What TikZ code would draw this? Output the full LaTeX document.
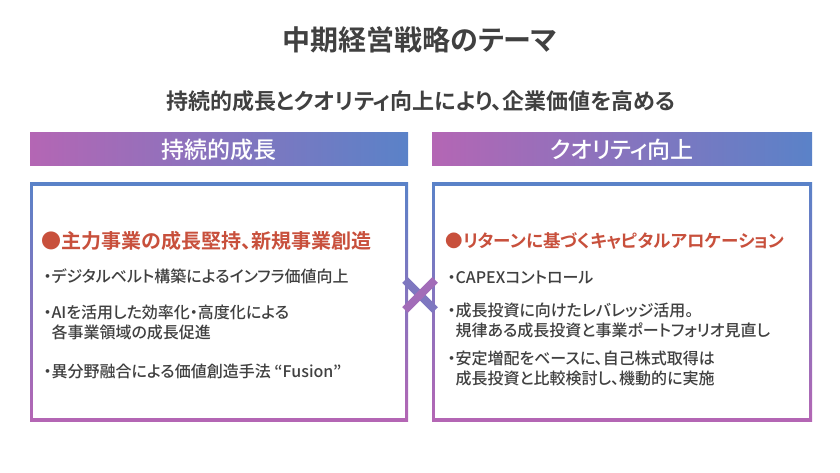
\documentclass[tikz,border=0pt]{standalone}
\usepackage{fontspec}
\setmainfont[RawFeature=+palt]{Noto Sans CJK JP Medium}
\newfontfamily\jpbold[RawFeature=+palt]{Noto Sans CJK JP Bold}
\usetikzlibrary{positioning}
\definecolor{themepurple}{HTML}{B466B4}
\definecolor{themeblue}{HTML}{5A82C8}
\definecolor{themered}{HTML}{C8503C}
\definecolor{themegray}{HTML}{404040}
\tikzset{
  headbar/.style={left color=themepurple, right color=themeblue, draw=none},
  headtext/.style={text=white, font=\fontsize{23}{27}\selectfont},
  leadtext/.style={anchor=west, text=themered, font=\jpbold\fontsize{20}{24}\selectfont},
  itemtext/.style={anchor=north west, text=themegray, align=left, font=\fontsize{16}{20}\selectfont}
}
\begin{document}
\begin{tikzpicture}[x=1pt,y=-1pt]
  \useasboundingbox (0,0) rectangle (840,473);
  \node[text=themegray, font=\jpbold\fontsize{28}{32}\selectfont] (title) at (420,40) {中期経営戦略のテーマ};
  \node[text=themegray, font=\jpbold\fontsize{22}{26}\selectfont] (sub) at (421,101) {持続的成長とクオリティ向上により、企業価値を高める};
  % header bars
  \shade[headbar] (30,133) rectangle (408,166);
  \shade[headbar] (432,133) rectangle (812,166);
  \node[headtext] (lhead) at (219,150) {持続的成長};
  \node[headtext] (rhead) at (622,150) {クオリティ向上};
  % boxes
  \shade[top color=themeblue, bottom color=themepurple] (30,183) rectangle (408,421);
  \fill[white] (33,186) rectangle (405,418);
  \shade[top color=themeblue, bottom color=themepurple] (432,183) rectangle (812,421);
  \fill[white] (435,186) rectangle (809,418);
  % cross
  \draw[line width=8pt, themeblue!60!themepurple] (405,280) -- (435,310);
  \draw[line width=8pt, themepurple!80!themeblue] (435,280) -- (405,310);
  % left text
  \node[leadtext] (llead) at (38,241) {●主力事業の成長堅持、新規事業創造};
  \node[itemtext] (l1) at (40,265) {・デジタルベルト構築によるインフラ価値向上};
  \node[itemtext] (l2) at (40,301) {・AIを活用した効率化・高度化による\\\phantom{・}各事業領域の成長促進};
  \node[itemtext] (l3) at (40,360) {・異分野融合による価値創造手法 “Fusion”};
  % right text
  \node[leadtext, font=\jpbold\fontsize{17.5}{22}\selectfont] (rlead) at (442,241) {●リターンに基づくキャピタルアロケーション};
  \node[itemtext] (r1) at (444,267) {・CAPEXコントロール};
  \node[itemtext] (r2) at (444,299) {・成長投資に向けたレバレッジ活用。\\\phantom{・}規律ある成長投資と事業ポートフォリオ見直し};
  \node[itemtext] (r3) at (444,347) {・安定増配をベースに、自己株式取得は\\\phantom{・}成長投資と比較検討し、機動的に実施};
\end{tikzpicture}
\end{document}
